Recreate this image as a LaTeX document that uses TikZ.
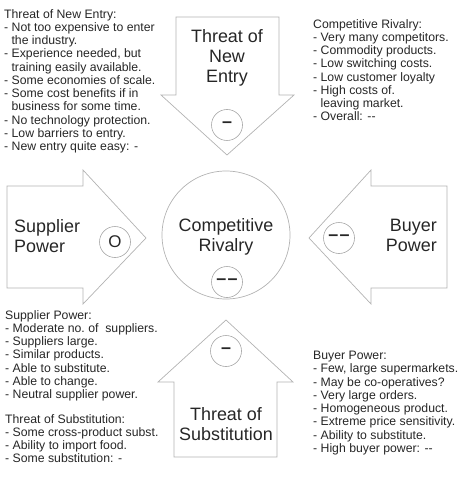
\documentclass[tikz,border=0pt]{standalone}
\usepackage{fontspec}
\setmainfont{Liberation Sans}
\newcommand{\hang}{\hspace*{0.6em}}
\newcommand{\twodash}{-\kern0pt-}
\begin{document}
\begin{tikzpicture}[x=1bp, y=-1bp,
		outline/.style={draw=black!30, line width=0.7pt},
		title/.style={inner sep=0pt, text=black!85, font=\fontsize{18}{20}\selectfont},
		notes/.style={inner sep=0pt, anchor=north west, align=left, text=black!85, font=\fontsize{12.3}{13.3}\selectfont},
		rating/.style={circle, draw=black!35, line width=0.6pt, minimum size=31bp, inner sep=0pt, text=black!85, font=\fontsize{18}{20}\selectfont\bfseries}]
	\useasboundingbox (0,0) rectangle (460,480);

	% the four arrows and the centre
	\draw[outline] (176,17) -- (279,17) -- (279,95) -- (294,95) -- (227,155) -- (161,95) -- (176,95) -- cycle;
	\draw[outline] (7,186) -- (83,186) -- (83,170) -- (146,238) -- (83,304) -- (83,288) -- (7,288) -- cycle;
	\draw[outline] (447,186) -- (371,186) -- (371,170) -- (309,238) -- (371,304) -- (371,288) -- (447,288) -- cycle;
	\draw[outline] (226,320) -- (293,382) -- (277,382) -- (277,457) -- (174,457) -- (174,382) -- (158,382) -- cycle;
	\draw[outline] (226,235) circle[radius=64];

	\node[title, anchor=north, align=center] (entry) at (227,29) {Threat of\\New\\Entry};
	\node[title, anchor=north west, align=left] (supplier) at (14,219) {Supplier\\Power};
	\node[title, anchor=north, align=center] (rivalry) at (226,218) {Competitive\\Rivalry};
	\node[title, anchor=north east, align=right] (buyer) at (437,219) {Buyer\\Power};
	\node[title, anchor=north, align=center] (subst) at (226,407) {Threat of\\Substitution};

	% ratings
	\node[rating] (entryR) at (227,125) {–};
	\node[rating, font=\fontsize{17}{17}\selectfont] (supplierR) at (115,242) {O};
	\node[rating] (rivalryR) at (227,282) {–\kern1.5pt–};
	\node[rating] (buyerR) at (339,238) {–\kern1.5pt–};
	\node[rating] (substR) at (226,351) {–};

	% notes
	\node[notes] (entryN) at (4,9) {Threat of New Entry:\\
		- Not too expensive to enter\\
		\hang the industry.\\
		- Experience needed, but\\
		\hang training easily available.\\
		- Some economies of scale.\\
		- Some cost benefits if in\\
		\hang business for some time.\\
		- No technology protection.\\
		- Low barriers to entry.\\
		- New entry quite easy: -};
	\node[notes] (rivalryN) at (313,19) {Competitive Rivalry:\\
		- Very many competitors.\\
		- Commodity products.\\
		- Low switching costs.\\
		- Low customer loyalty\\
		- High costs of.\\
		\hang leaving market.\\
		- Overall: \twodash};
	\node[notes] (supplierN) at (5,310) {Supplier Power:\\
		- Moderate no.\ of\ \ suppliers.\\
		- Suppliers large.\\
		- Similar products.\\
		- Able to substitute.\\
		- Able to change.\\
		- Neutral supplier power.};
	\node[notes] (substN) at (5,414) {Threat of Substitution:\\
		- Some cross-product subst.\\
		- Ability to import food.\\
		- Some substitution: -};
	\node[notes] (buyerN) at (313,351) {Buyer Power:\\
		- Few, large supermarkets.\\
		- May be co-operatives?\\
		- Very large orders.\\
		- Homogeneous product.\\
		- Extreme price sensitivity.\\
		- Ability to substitute.\\
		- High buyer power: \twodash};
\end{tikzpicture}
\end{document}
